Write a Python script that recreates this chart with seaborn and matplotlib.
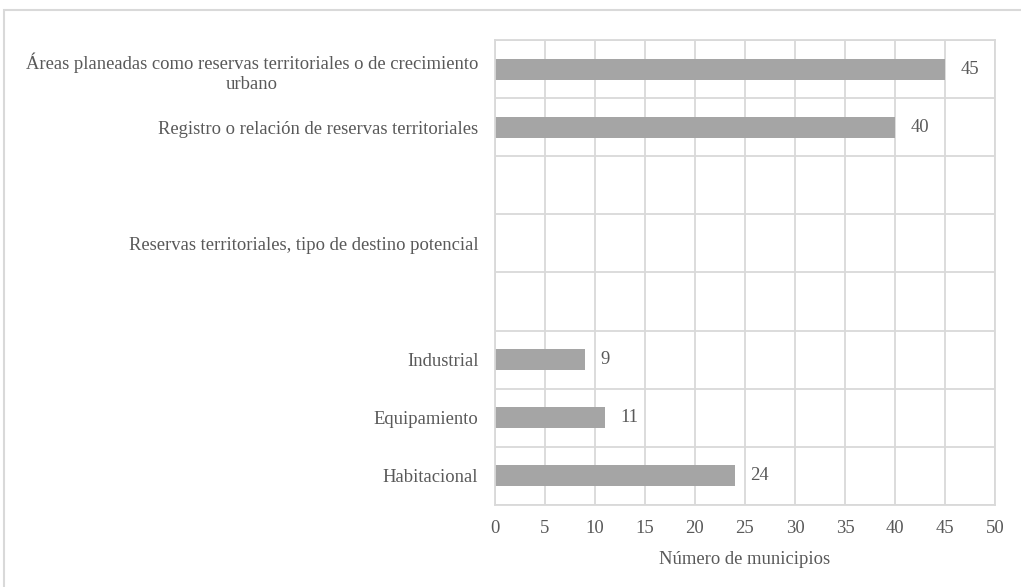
import numpy as np
import pandas as pd
import seaborn as sns
import matplotlib.pyplot as plt
from matplotlib.patches import Rectangle
from matplotlib.ticker import FixedLocator

# Datos (filas vacías sin barra)
categorias = [
    "Áreas planeadas como reservas territoriales o de crecimiento\nurbano",
    "Registro o relación de reservas territoriales",
    " ",
    "Reservas territoriales, tipo de destino potencial",
    "  ",
    "Industrial",
    "Equipamiento",
    "Habitacional",
]
municipios = [45, 40, np.nan, np.nan, np.nan, 9, 11, 24]
ticks_x = [0, 5, 10, 15, 20, 25, 30, 35, 40, 45, 50]

df = pd.DataFrame({"categoria": categorias, "municipios": municipios})

sns.set_style("white")
plt.rcParams["font.family"] = ["Liberation Serif", "DejaVu Serif"]

gris_texto = "#595959"
gris_rejilla = "#D9D9D9"
fs = 13.4

fig = plt.figure(figsize=(10.21, 5.87), dpi=100)
ax = fig.add_axes([0.4848, 0.1397, 0.4897, 0.7922])

sns.barplot(data=df, x="municipios", y="categoria", order=categorias,
            color="#A5A5A5", saturation=1, width=0.36, orient="h",
            linewidth=0, ax=ax)

ax.set_xlim(0, 50)
ax.set_ylim(len(categorias) - 0.5, -0.5)
ax.set_xticks(ticks_x)
ax.set_xticklabels([str(t) for t in ticks_x])
ax.yaxis.set_minor_locator(FixedLocator(np.arange(-0.5, len(categorias), 1)))
ax.grid(axis="x", which="major", color=gris_rejilla, lw=1.3)
ax.grid(axis="y", which="minor", color=gris_rejilla, lw=1.3)
ax.set_axisbelow(True)
for s in ax.spines.values():
    s.set_color(gris_rejilla)
    s.set_linewidth(1.3)

ax.tick_params(axis="x", length=0, pad=11, labelsize=fs, labelcolor=gris_texto)
ax.tick_params(axis="y", which="both", length=0, pad=12, labelsize=fs, labelcolor=gris_texto)
for lbl in ax.get_yticklabels():
    lbl.set_multialignment("center")
    if "\n" in lbl.get_text():
        lbl.set_linespacing(1.25)
        lbl.set_y(lbl.get_position()[1])

ax.set_xlabel("Número de municipios", fontsize=fs, color=gris_texto, labelpad=10)
ax.set_ylabel("")

for cont in ax.containers:
    etiquetas = ["" if np.isnan(v) else f"{v:.0f}" for v in cont.datavalues]
    ax.bar_label(cont, labels=etiquetas, padding=11, fontsize=fs, color=gris_texto)

# marco exterior del gráfico
fig.patches.append(Rectangle((4 / 1021, -0.2), 1.2, 1.2 - 9.5 / 587,
                             transform=fig.transFigure, fill=False,
                             edgecolor=gris_rejilla, lw=1.5, zorder=0))

fig.savefig("out.png", dpi=100)
